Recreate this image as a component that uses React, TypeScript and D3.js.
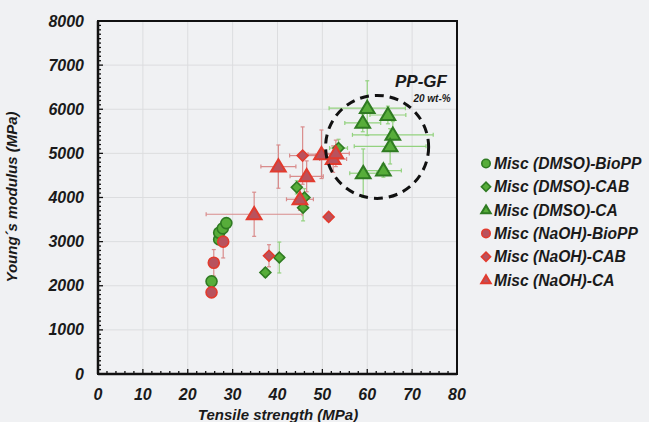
import React from "react";
import * as d3 from "d3";

type Pt = { x: number; y: number; xe: number; ye: number };

// x, y, x error, y error
const dmsoBioPP: Pt[] = [
  { x: 25.3, y: 2100, xe: 0.3, ye: 100 },
  { x: 27.0, y: 3050, xe: 0.4, ye: 100 },
  { x: 27.0, y: 3200, xe: 0.4, ye: 100 },
  { x: 27.8, y: 3300, xe: 0.4, ye: 100 },
  { x: 28.6, y: 3420, xe: 0.4, ye: 100 },
];
const dmsoCAB: Pt[] = [
  { x: 37.3, y: 2300, xe: 0.5, ye: 100 },
  { x: 40.4, y: 2640, xe: 1.0, ye: 350 },
  { x: 44.3, y: 4230, xe: 0.8, ye: 150 },
  { x: 46.0, y: 4000, xe: 0.8, ye: 200 },
  { x: 45.7, y: 3770, xe: 0.8, ye: 300 },
  { x: 53.6, y: 5120, xe: 2.0, ye: 200 },
];
const dmsoCA: Pt[] = [
  { x: 60.0, y: 6025, xe: 8.5, ye: 620 },
  { x: 59.0, y: 5690, xe: 4.0, ye: 200 },
  { x: 64.6, y: 5870, xe: 4.0, ye: 200 },
  { x: 65.7, y: 5420, xe: 9.0, ye: 300 },
  { x: 65.1, y: 5160, xe: 8.0, ye: 400 },
  { x: 59.1, y: 4550, xe: 3.0, ye: 550 },
  { x: 63.6, y: 4610, xe: 4.0, ye: 150 },
];
const naohBioPP: Pt[] = [
  { x: 25.3, y: 1850, xe: 0.3, ye: 100 },
  { x: 25.8, y: 2520, xe: 0.3, ye: 300 },
  { x: 27.9, y: 3000, xe: 0.4, ye: 370 },
];
const naohCAB: Pt[] = [
  { x: 38.1, y: 2680, xe: 0.8, ye: 250 },
  { x: 45.6, y: 4950, xe: 2.9, ye: 650 },
  { x: 51.4, y: 3560, xe: 0.5, ye: 100 },
];
const naohCA: Pt[] = [
  { x: 34.8, y: 3620, xe: 10.7, ye: 500 },
  { x: 40.2, y: 4700, xe: 3.9, ye: 490 },
  { x: 45.0, y: 3960, xe: 3.0, ye: 250 },
  { x: 46.5, y: 4480, xe: 3.7, ye: 350 },
  { x: 49.8, y: 4980, xe: 3.0, ye: 550 },
  { x: 52.4, y: 4870, xe: 3.0, ye: 300 },
  { x: 53.0, y: 5000, xe: 3.0, ye: 300 },
];

const xTicks = [0, 10, 20, 30, 40, 50, 60, 70, 80];
const yTicks = [0, 1000, 2000, 3000, 4000, 5000, 6000, 7000, 8000];

const legendLabels = [
  "Misc (DMSO)-BioPP",
  "Misc (DMSO)-CAB",
  "Misc (DMSO)-CA",
  "Misc (NaOH)-BioPP",
  "Misc (NaOH)-CAB",
  "Misc (NaOH)-CA",
];

const GREEN_FILL = "#57ad3a";
const GREEN_STROKE = "#2f7b22";
const GREEN_ERR = "#93d27f";
const RED_FILL = "#b9525d";
const RED_STROKE = "#e23b2e";
const RED_ERR = "#d98c8c";

const FONT = "'Liberation Sans', Arial, sans-serif";

type Shape = "circle" | "diamond" | "triangle";

function Marker({ shape, cx, cy, fill, stroke, s }: { shape: Shape; cx: number; cy: number; fill: string; stroke: string; s: number }) {
  if (shape === "circle") {
    return <circle cx={cx} cy={cy} r={s} fill={fill} stroke={stroke} strokeWidth={1.6} />;
  }
  if (shape === "diamond") {
    const sym = d3.symbol().type(d3.symbolSquare).size(s * s * 2.4)();
    return <path d={sym || ""} transform={`translate(${cx},${cy}) rotate(45)`} fill={fill} stroke={stroke} strokeWidth={1.6} />;
  }
  const h = s * 1.75;
  const w = s * 1.05;
  const d = `M${cx},${cy - h * 0.6}L${cx + w},${cy + h * 0.4}L${cx - w},${cy + h * 0.4}Z`;
  return <path d={d} fill={fill} stroke={stroke} strokeWidth={2} strokeLinejoin="miter" />;
}

export default function App() {
  const W = 649;
  const H = 422;
  const left = 98, right = 457, top = 21, bottom = 374;
  const x = d3.scaleLinear().domain([0, 80]).range([left, right]);
  const y = d3.scaleLinear().domain([0, 8000]).range([bottom, top]);

  const series: { data: Pt[]; shape: Shape; fill: string; stroke: string; err: string; s: number }[] = [
    { data: dmsoBioPP, shape: "circle", fill: GREEN_FILL, stroke: GREEN_STROKE, err: GREEN_ERR, s: 5.5 },
    { data: naohBioPP, shape: "circle", fill: RED_FILL, stroke: RED_STROKE, err: RED_ERR, s: 5.5 },
    { data: dmsoCAB, shape: "diamond", fill: GREEN_FILL, stroke: GREEN_STROKE, err: GREEN_ERR, s: 5 },
    { data: naohCAB, shape: "diamond", fill: RED_FILL, stroke: RED_STROKE, err: RED_ERR, s: 5 },
    { data: dmsoCA, shape: "triangle", fill: GREEN_FILL, stroke: GREEN_STROKE, err: GREEN_ERR, s: 7 },
    { data: naohCA, shape: "triangle", fill: RED_FILL, stroke: RED_STROKE, err: RED_ERR, s: 7 },
  ];

  const xMinor = d3.range(0, 81, 2);
  const yMinor = d3.range(0, 8001, 100);

  const legendItems: { shape: Shape; fill: string; stroke: string }[] = [
    { shape: "circle", fill: GREEN_FILL, stroke: GREEN_STROKE },
    { shape: "diamond", fill: GREEN_FILL, stroke: GREEN_STROKE },
    { shape: "triangle", fill: GREEN_FILL, stroke: GREEN_STROKE },
    { shape: "circle", fill: RED_FILL, stroke: RED_STROKE },
    { shape: "diamond", fill: RED_FILL, stroke: RED_STROKE },
    { shape: "triangle", fill: RED_FILL, stroke: RED_STROKE },
  ];

  const circCx = x(62.2);
  const circCy = y(5147);

  return (
    <svg width={W} height={H} style={{ position: "absolute", left: 0, top: 0, background: "#f0f1f3" }} fontFamily={FONT}>
      <rect x={0} y={0} width={W} height={H} fill="#f0f1f3" />
      {/* grid */}
      {xTicks.slice(1, -1).map((t) => (
        <line key={"gx" + t} x1={x(t)} x2={x(t)} y1={top} y2={bottom} stroke="#dcdddf" strokeWidth={1} />
      ))}
      {yTicks.slice(1, -1).map((t) => (
        <line key={"gy" + t} x1={left} x2={right} y1={y(t)} y2={y(t)} stroke="#dcdddf" strokeWidth={1} />
      ))}
      {/* minor ticks */}
      {xMinor.map((t) => (
        <line key={"mx" + t} x1={x(t)} x2={x(t)} y1={bottom} y2={bottom - (t % 10 === 0 ? 5 : 3)} stroke="#111" strokeWidth={1.3} />
      ))}
      {yMinor.map((t) => (
        <line key={"my" + t} x1={left} x2={left + (t % 1000 === 0 ? 5 : 3)} y1={y(t)} y2={y(t)} stroke="#111" strokeWidth={1.3} />
      ))}
      {/* frame */}
      <rect x={left} y={top} width={right - left} height={bottom - top} fill="none" stroke="#111" strokeWidth={2} />
      <line x1={left} x2={left} y1={top} y2={bottom} stroke="#111" strokeWidth={2.5} />
      <line x1={left} x2={right} y1={bottom} y2={bottom} stroke="#111" strokeWidth={2.5} />

      {/* tick labels */}
      {xTicks.map((t) => (
        <text key={"xl" + t} x={x(t)} y={400} textAnchor="middle" fontSize={16} fontWeight="bold" fontStyle="italic" fill="#1a1a1a">
          {t}
        </text>
      ))}
      {yTicks.map((t) => (
        <text key={"yl" + t} x={84} y={y(t) + 5.5} textAnchor="end" fontSize={16} fontWeight="bold" fontStyle="italic" fill="#1a1a1a">
          {t}
        </text>
      ))}
      <text x={278} y={420} textAnchor="middle" fontSize={15} fontWeight="bold" fontStyle="italic" fill="#1a1a1a">
        Tensile strength (MPa)
      </text>
      <text transform={`translate(17,197) rotate(-90)`} textAnchor="middle" fontSize={15} fontWeight="bold" fontStyle="italic" fill="#1a1a1a">
        Young´s modulus (MPa)
      </text>

      {/* error bars */}
      {series.map((s, si) => (
        <g key={"e" + si} stroke={s.err} strokeWidth={1.2}>
          {s.data.map((p, i) => (
            <g key={i}>
              <line x1={x(p.x - p.xe)} x2={x(p.x + p.xe)} y1={y(p.y)} y2={y(p.y)} />
              <line x1={x(p.x)} x2={x(p.x)} y1={y(p.y - p.ye)} y2={y(p.y + p.ye)} />
              <line x1={x(p.x - p.xe)} x2={x(p.x - p.xe)} y1={y(p.y) - 2} y2={y(p.y) + 2} />
              <line x1={x(p.x + p.xe)} x2={x(p.x + p.xe)} y1={y(p.y) - 2} y2={y(p.y) + 2} />
              <line x1={x(p.x) - 2} x2={x(p.x) + 2} y1={y(p.y - p.ye)} y2={y(p.y - p.ye)} />
              <line x1={x(p.x) - 2} x2={x(p.x) + 2} y1={y(p.y + p.ye)} y2={y(p.y + p.ye)} />
            </g>
          ))}
        </g>
      ))}
      {/* markers */}
      {series.map((s, si) => (
        <g key={"m" + si}>
          {s.data.map((p, i) => (
            <Marker key={i} shape={s.shape} cx={x(p.x)} cy={y(p.y)} fill={s.fill} stroke={s.stroke} s={s.s} />
          ))}
        </g>
      ))}

      {/* PP-GF circle */}
      <circle cx={circCx} cy={circCy} r={51.5} fill="none" stroke="#111" strokeWidth={3} strokeDasharray="9 6" />
      <text x={421} y={87} textAnchor="middle" fontSize={17} fontWeight="bold" fontStyle="italic" fill="#1a1a1a">
        PP-GF
      </text>
      <text x={432} y={102} textAnchor="middle" fontSize={10} fontWeight="bold" fontStyle="italic" fill="#1a1a1a">
        20 wt-%
      </text>

      {/* legend */}
      {legendLabels.map((l, i) => {
        const ly = 163.5 + i * 23.3;
        const it = legendItems[i];
        return (
          <g key={"lg" + i}>
            <Marker shape={it.shape} cx={486} cy={ly} fill={it.fill} stroke={it.stroke} s={it.shape === "triangle" ? 4.5 : 4.2} />
            <text x={494} y={ly + 5.5} fontSize={15.6} fontWeight="bold" fontStyle="italic" fill="#1a1a1a">
              {l}
            </text>
          </g>
        );
      })}
    </svg>
  );
}
